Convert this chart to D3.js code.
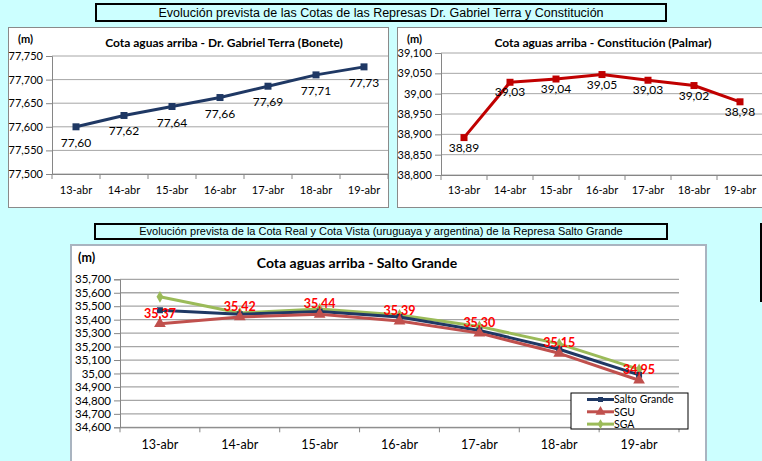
<!DOCTYPE html>
<html>
<head>
<meta charset="utf-8">
<script src="https://cdn.jsdelivr.net/npm/d3@7"></script>
<style>
  body { margin: 0; background: #ccffff; }
  svg { display: block; }
</style>
</head>
<body>
<svg id="chart" width="762" height="461"></svg>
<script>
// ---- data ----
const days = ["13-abr", "14-abr", "15-abr", "16-abr", "17-abr", "18-abr", "19-abr"];

const boneteValues = [77.600, 77.624, 77.643, 77.662, 77.686, 77.710, 77.727];
const boneteTicks = [77.50, 77.55, 77.60, 77.65, 77.70, 77.75];
const boneteTickLabels = ["77,500", "77,550", "77,600", "77,650", "77,700", "77,750"];

const palmarValues = [38.892, 39.028, 39.036, 39.047, 39.033, 39.020, 38.980];
const palmarTicks = [38.80, 38.85, 38.90, 38.95, 39.00, 39.05, 39.10];
const palmarTickLabels = ["38,800", "38,850", "38,900", "38,950", "39,00", "39,050", "39,100"];

const saltoGrandeValues = [35.47, 35.44, 35.46, 35.42, 35.32, 35.18, 34.99];
const sguValues = [35.37, 35.42, 35.44, 35.39, 35.30, 35.15, 34.95];
const sgaValues = [35.57, 35.45, 35.48, 35.435, 35.35, 35.22, 35.03];
const saltoTicks = [34.6, 34.7, 34.8, 34.9, 35.0, 35.1, 35.2, 35.3, 35.4, 35.5, 35.6, 35.7];
const saltoTickLabels = ["34,600", "34,700", "34,800", "34,900", "35,00", "35,100",
                         "35,200", "35,300", "35,400", "35,500", "35,600", "35,700"];
const seriesNames = ["Salto Grande", "SGU", "SGA"];

const headerTop = "Evolución prevista de las Cotas de las Represas Dr. Gabriel Terra y Constitución";
const headerBottom = "Evolución prevista de la Cota Real y Cota Vista (uruguaya y argentina) de la Represa Salto Grande";

const fmt2 = v => v.toFixed(2).replace(".", ",");
const excelFont = "Lato, 'Open Sans', sans-serif";
const arialFont = "'Liberation Sans', Arial, sans-serif";

var svg = d3.select("#chart");

// header boxes
function header(x, y, w, h, text, size) {
  svg.append("rect")
    .attr("x", x).attr("y", y).attr("width", w).attr("height", h)
    .attr("fill", "#ccffff").attr("stroke", "#000").attr("stroke-width", 2);
  svg.append("text")
    .attr("x", x + w / 2).attr("y", y + h / 2 + size * 0.36)
    .attr("text-anchor", "middle")
    .attr("font-family", arialFont).attr("font-size", size)
    .text(text);
}
header(96, 4, 570, 17, headerTop, 12.5);
header(95, 224, 572, 15, headerBottom, 11);

// black edge of a box cut off on the right
svg.append("line")
  .attr("x1", 761).attr("x2", 761).attr("y1", 223).attr("y2", 302)
  .attr("stroke", "#000").attr("stroke-width", 2);

// generic Excel-like line chart panel
function panel(o) {
  svg.append("rect")
    .attr("x", o.box[0]).attr("y", o.box[1]).attr("width", o.box[2]).attr("height", o.box[3])
    .attr("fill", "#fff").attr("stroke", o.boxStroke || "#8a8a8a").attr("stroke-width", o.boxWidth || 1);

  var x = d3.scaleBand().domain(days).range([o.left, o.right]).padding(0);
  var y = d3.scaleLinear().domain([o.ticks[0], o.ticks[o.ticks.length - 1]]).range([o.bottom, o.top]);
  var cx = d => x(d) + x.bandwidth() / 2;

  // gridlines
  svg.append("g")
    .selectAll("line")
    .data(o.ticks)
    .enter().append("line")
      .attr("x1", o.left).attr("x2", o.right)
      .attr("y1", d => y(d)).attr("y2", d => y(d))
      .attr("stroke", "#a6a6a6").attr("stroke-width", o.gridWidth || 1);

  // y axis
  var yAxis = svg.append("g")
    .attr("transform", "translate(" + o.left + ",0)")
    .call(d3.axisLeft(y).tickValues(o.ticks)
            .tickFormat((d, i) => o.tickLabels[i]).tickSize(6).tickPadding(3));
  yAxis.select(".domain").attr("stroke", "#868686");
  yAxis.selectAll(".tick line").attr("stroke", "#868686");
  yAxis.selectAll("text")
    .attr("font-family", excelFont).attr("font-size", o.yTickSize || o.tickSize).attr("fill", "#000");

  // x axis: labels centred, ticks between categories
  var xAxis = svg.append("g")
    .attr("transform", "translate(0," + o.bottom + ")")
    .call(d3.axisBottom(x).tickSize(0).tickPadding(o.xPad));
  xAxis.select(".domain").attr("stroke", "#868686");
  xAxis.selectAll("text")
    .attr("font-family", excelFont).attr("font-size", o.tickSize).attr("fill", "#000");
  svg.append("g")
    .selectAll("line")
    .data(days.map(d => x(d)).concat([o.right]))
    .enter().append("line")
      .attr("x1", d => d).attr("x2", d => d)
      .attr("y1", o.bottom).attr("y2", o.bottom + 5)
      .attr("stroke", "#868686");

  // titles
  svg.append("text")
    .attr("x", o.titleX).attr("y", o.titleY)
    .attr("text-anchor", "middle")
    .attr("font-family", excelFont).attr("font-weight", "bold").attr("font-size", o.titleSize)
    .text(o.title);
  svg.append("text")
    .attr("x", o.unitX).attr("y", o.unitY)
    .attr("font-family", excelFont).attr("font-weight", "bold").attr("font-size", o.tickSize)
    .text("(m)");

  return { x: x, y: y, cx: cx };
}

function drawSeries(s, values, color, width, marker, size) {
  var line = d3.line().x((d, i) => s.cx(days[i])).y(d => s.y(d));
  svg.append("path")
    .datum(values)
    .attr("d", line)
    .attr("fill", "none").attr("stroke", color).attr("stroke-width", width)
    .attr("stroke-linejoin", "round");
  svg.append("g")
    .selectAll("path")
    .data(values)
    .enter().append("path")
      .attr("d", d3.symbol().type(marker).size(size))
      .attr("transform", (d, i) => "translate(" + s.cx(days[i]) + "," + s.y(d) + ")")
      .attr("fill", color);
}

function drawLabels(s, values, dy, font) {
  svg.append("g")
    .selectAll("text")
    .data(values)
    .enter().append("text")
      .attr("x", (d, i) => s.cx(days[i]))
      .attr("y", d => s.y(d) + dy)
      .attr("text-anchor", "middle")
      .attr("font-family", excelFont)
      .attr("font-size", font.size)
      .attr("font-weight", font.weight || "normal")
      .attr("fill", font.color || "#000")
      .text(d => fmt2(d));
}

// ---- Bonete ----
var bonete = panel({
  box: [8.5, 27.5, 380, 180],
  left: 52, right: 388, top: 56, bottom: 174,
  ticks: boneteTicks, tickLabels: boneteTickLabels,
  tickSize: 11, xPad: 12,
  title: "Cota aguas arriba - Dr. Gabriel Terra (Bonete)", titleX: 224, titleY: 47, titleSize: 12,
  unitX: 18, unitY: 43
});
drawSeries(bonete, boneteValues, "#1f3864", 3, d3.symbolSquare, 49);
drawLabels(bonete, boneteValues, 20, { size: 12 });

// ---- Palmar ----
var palmar = panel({
  box: [397.5, 27.5, 380, 180],
  left: 441, right: 763, top: 53, bottom: 175,
  ticks: palmarTicks, tickLabels: palmarTickLabels,
  tickSize: 11, xPad: 11,
  title: "Cota aguas arriba - Constitución (Palmar)", titleX: 603, titleY: 47, titleSize: 12,
  unitX: 407, unitY: 43
});
drawSeries(palmar, palmarValues, "#c00000", 3, d3.symbolSquare, 49);
drawLabels(palmar, palmarValues, 14, { size: 12 });

// ---- Salto Grande ----
var salto = panel({
  box: [71, 245, 635, 240], boxStroke: "#a9b4c0", boxWidth: 2,
  left: 120, right: 679, top: 279.3, bottom: 427.3,
  ticks: saltoTicks, tickLabels: saltoTickLabels,
  tickSize: 12.5, yTickSize: 11.5, xPad: 13, gridWidth: 1.3,
  title: "Cota aguas arriba - Salto Grande", titleX: 357, titleY: 268, titleSize: 14,
  unitX: 78, unitY: 262
});
var saltoSeries = [
  { values: saltoGrandeValues, color: "#1f3864", marker: d3.symbolSquare, size: 36 },
  { values: sguValues, color: "#c0504d", marker: d3.symbolTriangle, size: 60 },
  { values: sgaValues, color: "#9bbb59", marker: d3.symbolDiamond, size: 40 }
];
// draw green first so the navy and red lines sit on top like the original
[2, 0, 1].forEach(function (k) {
  var s = saltoSeries[k];
  drawSeries(salto, s.values, s.color, 3, s.marker, s.size);
});
drawLabels(salto, sguValues, -6, { size: 12.5, weight: "bold", color: "#ff0000" });

// legend
var legend = svg.append("g").attr("transform", "translate(571,393)");
legend.append("rect")
  .attr("width", 117).attr("height", 36)
  .attr("fill", "#fff").attr("stroke", "#000").attr("stroke-width", 1);
var rows = legend.selectAll(".row")
  .data(seriesNames)
  .enter().append("g")
    .attr("class", "row")
    .attr("transform", (d, i) => "translate(0," + (6.5 + i * 12.3) + ")");
rows.append("line")
  .attr("x1", 16).attr("x2", 43)
  .attr("stroke", (d, i) => saltoSeries[i].color).attr("stroke-width", 3);
rows.append("path")
  .attr("d", (d, i) => d3.symbol().type(saltoSeries[i].marker).size(saltoSeries[i].size * 0.7)())
  .attr("transform", "translate(29.5,0)")
  .attr("fill", (d, i) => saltoSeries[i].color);
rows.append("text")
  .attr("x", 43).attr("y", 3.8)
  .attr("font-family", excelFont).attr("font-size", 10.5)
  .text(d => d);
</script>
</body>
</html>
